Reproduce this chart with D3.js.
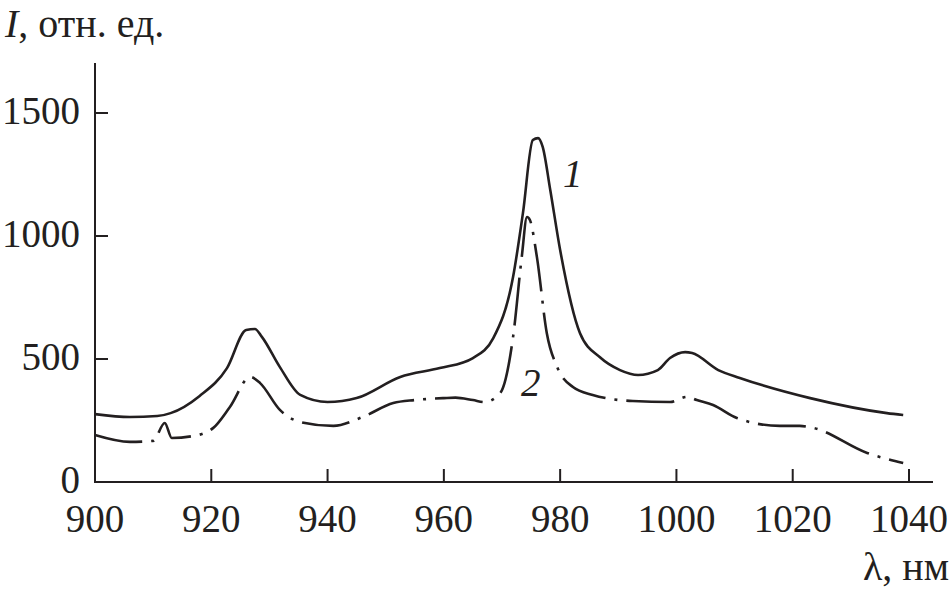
<!DOCTYPE html>
<html>
<head>
<meta charset="utf-8">
<script src="https://cdn.jsdelivr.net/npm/d3@7"></script>
<style>
  body { margin: 0; background: #fff; }
</style>
</head>
<body>
<script>
var width = 951,
    height = 592;

// curve 1 (solid)
var wave1 = [900, 906, 910.7, 913, 918, 922.7, 926, 927.5, 928.7, 931.8, 935.3, 940, 945, 952.5, 959.3, 965, 968.5, 971.9, 973.6, 975.3, 976.2, 977, 978.3, 980, 983.4, 986.9, 990.3, 993.4, 996.8, 998.9, 1001.5, 1002.7, 1007.2, 1010.9, 1023, 1036.2, 1039];
var int1 = [276, 264, 268, 280, 350, 463, 618, 622, 590, 467, 354, 325, 341, 427, 463, 504, 585, 833, 1093, 1390, 1398, 1362, 1187, 943, 606, 506, 455, 435, 455, 504, 528, 524, 455, 423, 341, 280, 272];

// curve 2 (dash-dot)
var wave2 = [900, 906, 910, 912, 913.2, 916.9, 920.3, 923.2, 926.7, 928.4, 931.8, 935.3, 941, 946, 951.3, 955, 960, 962, 965, 967, 969.7, 971.9, 973.4, 974.3, 974.8, 976, 977.7, 979.5, 982.2, 985.6, 992.5, 998.9, 1001.8, 1003.5, 1006.3, 1010.4, 1017.8, 1021.2, 1023.5, 1032.8, 1039];
var int2 = [191, 163, 167, 240, 179, 187, 219, 305, 427, 402, 293, 244, 228, 264, 321, 333, 341, 343, 333, 325, 362, 589, 915, 1077, 1065, 915, 606, 467, 386, 354, 329, 325, 346, 333, 313, 260, 228, 228, 220, 118, 77];

var xTicks = [900, 920, 940, 960, 980, 1000, 1020, 1040];
var yTicks = [0, 500, 1000, 1500];

var x = d3.scaleLinear().domain([900, 1040]).range([95, 909]);
var y = d3.scaleLinear().domain([0, 1500]).range([482, 113]);

var ink = "#231f20";
var serif = "'Liberation Serif', 'Times New Roman', serif";

var svg = d3.select("body").append("svg")
    .attr("width", width)
    .attr("height", height);

// axes lines
svg.append("line")
    .attr("x1", 95).attr("x2", 95)
    .attr("y1", 63).attr("y2", 483)
    .style("stroke", ink).style("stroke-width", 2);
svg.append("line")
    .attr("x1", 94).attr("x2", 933)
    .attr("y1", 482).attr("y2", 482)
    .style("stroke", ink).style("stroke-width", 2);

// ticks
svg.selectAll(".xt")
    .data(xTicks.slice(1))
    .enter().append("line")
    .attr("x1", function(d) { return x(d); })
    .attr("x2", function(d) { return x(d); })
    .attr("y1", 482).attr("y2", 469)
    .style("stroke", ink).style("stroke-width", 2);

svg.selectAll(".yt")
    .data(yTicks.slice(1))
    .enter().append("line")
    .attr("x1", 95).attr("x2", 108)
    .attr("y1", function(d) { return y(d); })
    .attr("y2", function(d) { return y(d); })
    .style("stroke", ink).style("stroke-width", 2);

// tick labels
svg.selectAll(".xl")
    .data(xTicks)
    .enter().append("text")
    .attr("x", function(d) { return x(d); })
    .attr("y", 532)
    .attr("text-anchor", "middle")
    .style("font-family", serif)
    .style("font-size", "39px")
    .style("fill", ink)
    .text(function(d) { return d; });

svg.selectAll(".yl")
    .data(yTicks)
    .enter().append("text")
    .attr("x", 80)
    .attr("y", function(d) { return y(d) + 11; })
    .attr("text-anchor", "end")
    .style("font-family", serif)
    .style("font-size", "39px")
    .style("fill", ink)
    .text(function(d) { return d; });

// axis titles
var yTitle = svg.append("text")
    .attr("x", 5)
    .attr("y", 37)
    .style("font-family", serif)
    .style("font-size", "40px")
    .style("fill", ink);
yTitle.append("tspan").style("font-style", "italic").text("I");
yTitle.append("tspan").text(", отн. ед.");

svg.append("text")
    .attr("x", 949)
    .attr("y", 580)
    .attr("text-anchor", "end")
    .style("font-family", serif)
    .style("font-size", "40px")
    .style("fill", ink)
    .text("λ, нм");

// curves
var line = d3.line()
    .x(function(d) { return x(d[0]); })
    .y(function(d) { return y(d[1]); })
    .curve(d3.curveMonotoneX);

svg.append("path")
    .datum(d3.zip(wave1, int1))
    .attr("d", line)
    .style("fill", "none")
    .style("stroke", ink)
    .style("stroke-width", 2.6);

svg.append("path")
    .datum(d3.zip(wave2, int2))
    .attr("d", line)
    .style("fill", "none")
    .style("stroke", ink)
    .style("stroke-width", 2.6)
    .style("stroke-dasharray", "48,9,3,9");

// curve labels
svg.append("text")
    .attr("x", 563).attr("y", 187)
    .style("font-family", serif)
    .style("font-size", "39px")
    .style("font-style", "italic")
    .style("fill", ink)
    .text("1");
svg.append("text")
    .attr("x", 521).attr("y", 396)
    .style("font-family", serif)
    .style("font-size", "39px")
    .style("font-style", "italic")
    .style("fill", ink)
    .text("2");
</script>
</body>
</html>
